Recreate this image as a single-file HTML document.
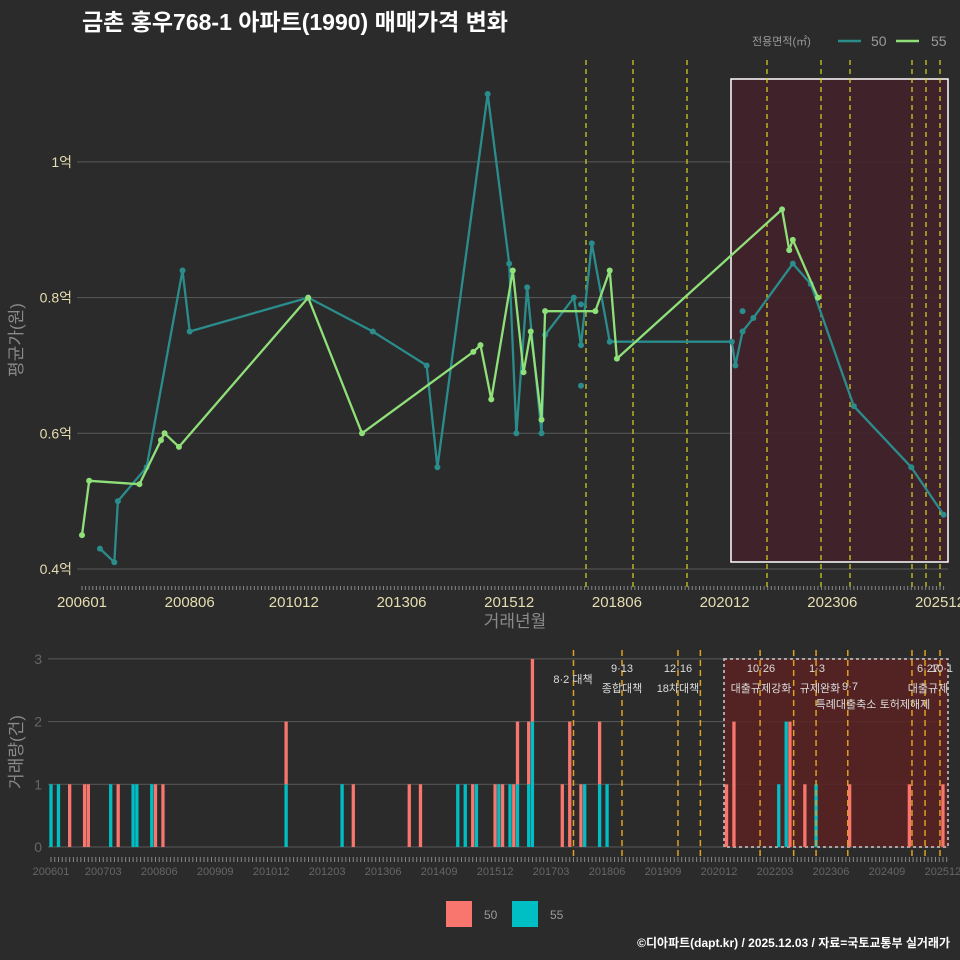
<!DOCTYPE html>
<html><head><meta charset="utf-8">
<style>
html,body{margin:0;padding:0;background:#2b2b2b;}
svg{display:block;font-family:"Liberation Sans","Noto Sans CJK KR",sans-serif;}
</style></head>
<body>
<svg id="c" width="960" height="960" viewBox="0 0 960 960">
<rect x="0" y="0" width="960" height="960" fill="#2b2b2b"/>
<text x="82" y="30" fill="#ffffff" font-size="23" font-weight="bold">금촌 홍우768-1 아파트(1990) 매매가격 변화</text>
<g>
<text x="752" y="45" fill="#9a9a9a" font-size="11">전용면적(㎡)</text>
<line x1="838" y1="41" x2="861" y2="41" stroke="#2b8c8c" stroke-width="2.5"/>
<text x="871" y="46" fill="#9a9a9a" font-size="14">50</text>
<line x1="896" y1="41" x2="919" y2="41" stroke="#90e07a" stroke-width="2.5"/>
<text x="931" y="46" fill="#9a9a9a" font-size="14">55</text>
</g>
<g id="topPanel"></g>
<g id="botPanel"></g>
<text x="515" y="627" fill="#8a8a8a" font-size="17" text-anchor="middle">거래년월</text>
<text transform="translate(22,340) rotate(-90)" fill="#8a8a8a" font-size="17" text-anchor="middle">평균가(원)</text>
<text transform="translate(22,752) rotate(-90)" fill="#8a8a8a" font-size="17" text-anchor="middle">거래량(건)</text>
<g>
<rect x="446" y="901" width="26" height="26" fill="#f8766d"/>
<text x="484" y="919" fill="#9a9a9a" font-size="12">50</text>
<rect x="512" y="901" width="26" height="26" fill="#00bfc4"/>
<text x="550" y="919" fill="#9a9a9a" font-size="12">55</text>
</g>
<text x="950" y="947" fill="#ffffff" font-size="12" font-weight="bold" text-anchor="end">©디아파트(dapt.kr) / 2025.12.03 / 자료=국토교통부 실거래가</text>
</svg>
<script>
const m50 = [5,9,10,18,28,30,63,81,96,99,113,119,121,124,128,129,137,139,142,147,181,182,184,187,198,203,215,231,240];
const v50 = [0.43,0.41,0.50,0.55,0.84,0.75,0.80,0.75,0.70,0.55,1.10,0.85,0.60,0.815,0.60,0.745,0.80,0.73,0.88,0.735,0.735,0.70,0.75,0.77,0.85,0.82,0.64,0.55,0.48];
const m55 = [0,2,16,22,23,27,63,78,109,111,114,120,123,125,128,129,143,147,149,195,197,198,205];
const v55 = [0.45,0.53,0.525,0.59,0.60,0.58,0.80,0.60,0.72,0.73,0.65,0.84,0.69,0.75,0.62,0.78,0.78,0.84,0.71,0.93,0.87,0.885,0.80];
const extraM = [139,139,184];
const extraV = [0.67,0.79,0.78];
const yTicks = [0.4,0.6,0.8,1.0];
const yTickLabels = ["0.4억","0.6억","0.8억","1억"];
const topXLabels = ["200601","200806","201012","201306","201512","201806","202012","202306","202512"];
const topXMonths = [0,30,59,89,119,149,179,209,239];
const bm50 = [5,9,10,18,28,30,63,81,96,99,113,119,121,124,125,128,129,137,139,142,147,181,183,198,202,214,230,239];
const bc50 = [1,1,1,1,1,1,1,1,1,1,1,1,1,1,1,1,1,1,2,1,1,1,2,2,1,1,1,1];
const bm55 = [0,2,16,22,23,27,63,78,109,111,114,120,123,125,128,129,143,147,149,195,197,205];
const bc55 = [1,1,1,1,1,1,1,1,1,1,1,1,1,1,1,2,1,1,1,1,2,1];
const botXLabels = ["200601","200703","200806","200909","201012","201203","201306","201409","201512","201703","201806","201909","202012","202203","202306","202409","202512"];
const botXMonths = [0,14,29,44,59,74,89,104,119,134,149,164,179,194,209,224,239];
const policyMonths = [140,153,168,174,190,199,205,213.5,230.7,234.2,238.2];
const volTicks = [0,1,2,3];

const NS="http://www.w3.org/2000/svg";
function mk(p,t,a){const e=document.createElementNS(NS,t);for(const k in a)e.setAttribute(k,a[k]);p.appendChild(e);return e;}
const topG=document.getElementById('topPanel'), botG=document.getElementById('botPanel');
const xT=m=>82+m*3.59, yT=v=>569-(v-0.4)*678.5;
const xB=m=>51+m*3.732, yB=c=>847-c*62.7;

yTicks.forEach((v,i)=>{
  const l=mk(topG,'line',{x1:77,x2:948,y1:yT(v),y2:yT(v),stroke:'#5a5a5a','stroke-width':1});
  
  
  const t=mk(topG,'text',{x:72,y:yT(v)+5,fill:'#e6ddb0','font-size':14,'text-anchor':'end'});
  t.textContent=yTickLabels[i];
  
  
});
const hr=mk(topG,'rect',{x:731,y:79,width:217,height:483,fill:'#43222a','fill-opacity':0.9,stroke:'#ffffff','stroke-width':1.5});


[586,633,687,767,821,850,912,926,940].forEach(x=>{
  const l=mk(topG,'line',{x1:x,x2:x,y1:60,y2:590,stroke:'#d8d820','stroke-width':1.2,'stroke-dasharray':'5,4'});
  
  
});
for(let m=0;m<=240;m++){
  const l=mk(topG,'line',{x1:xT(m),x2:xT(m),y1:586,y2:590,stroke:'#888','stroke-width':1});
  
  
  const l2=mk(botG,'line',{x1:xB(m),x2:xB(m),y1:857,y2:862,stroke:'#888','stroke-width':1});
  
  
}
topXLabels.forEach((s,i)=>{
  const t=mk(topG,'text',{x:xT(topXMonths[i]),y:607,fill:'#e6ddb0','font-size':15,'text-anchor':'middle'});
  t.textContent=s;
  
  
});
function series(ms,vs,col,name){
  const pts=ms.map((m,i)=>xT(m)+','+yT(vs[i])).join(' ');
  const pl=mk(topG,'polyline',{points:pts,fill:'none',stroke:col,'stroke-width':2.3,'stroke-linejoin':'round'});
  
  
  ms.forEach((m,i)=>{
    const c=mk(topG,'circle',{cx:xT(m),cy:yT(vs[i]),r:3,fill:col});
    
    
  });
}
series(m50,v50,'#2b8c8c','series-50');
series(m55,v55,'#90e07a','series-55');
extraM.forEach((m,i)=>{
  const c=mk(topG,'circle',{cx:xT(m),cy:yT(extraV[i]),r:3,fill:'#2b8c8c'});
  
  
});

volTicks.forEach(c=>{
  const l=mk(botG,'line',{x1:48,x2:948,y1:yB(c),y2:yB(c),stroke:'#5a5a5a','stroke-width':1});
  
  
  const t=mk(botG,'text',{x:42,y:yB(c)+5,fill:'#666','font-size':14,'text-anchor':'end'});
  t.textContent=c;
  
  
});
const br=mk(botG,'rect',{x:724,y:659,width:224,height:188,fill:'#5a2222','fill-opacity':0.85,stroke:'#cccccc','stroke-width':1.5,'stroke-dasharray':'3,3'});


const bw=3.3;
const baseCount={};
bm55.forEach((m,i)=>{
  const r=mk(botG,'rect',{x:xB(m)-bw/2,y:yB(bc55[i]),width:bw,height:bc55[i]*62.7,fill:'#00bfc4'});
  
  
  baseCount[m]=bc55[i];
});
bm50.forEach((m,i)=>{
  const b=baseCount[m]||0;
  const r=mk(botG,'rect',{x:xB(m)-bw/2,y:yB(b+bc50[i]),width:bw,height:bc50[i]*62.7,fill:'#f8766d'});
  
  
});
policyMonths.forEach(m=>{
  const l=mk(botG,'line',{x1:xB(m),x2:xB(m),y1:650,y2:857,stroke:'#e0a020','stroke-width':1.5,'stroke-dasharray':'6,4'});
  
  
});
const notes=[[573,683,'8·2 대책'],[622,672,'9·13'],[622,692,'종합대책'],[678,672,'12·16'],[678,692,'18차대책'],[761,672,'10·26'],[761,692,'대출규제강화'],[817,672,'1·3'],[820,692,'규제완화'],[850,690,'9·7'],[846,708,'특례대출축소'],[905,708,'토허제해제'],[928,672,'6·27'],[942,672,'10·1'],[928,692,'대출규제']];
notes.forEach(n=>{
  const t=mk(botG,'text',{x:n[0],y:n[1],fill:'#dddddd','font-size':11,'text-anchor':'middle'});
  t.textContent=n[2];
  
  
});
botXLabels.forEach((s,i)=>{
  const t=mk(botG,'text',{x:xB(botXMonths[i]),y:875,fill:'#666','font-size':11,'text-anchor':'middle'});
  t.textContent=s;
  
  
});
</script>
</body></html>
